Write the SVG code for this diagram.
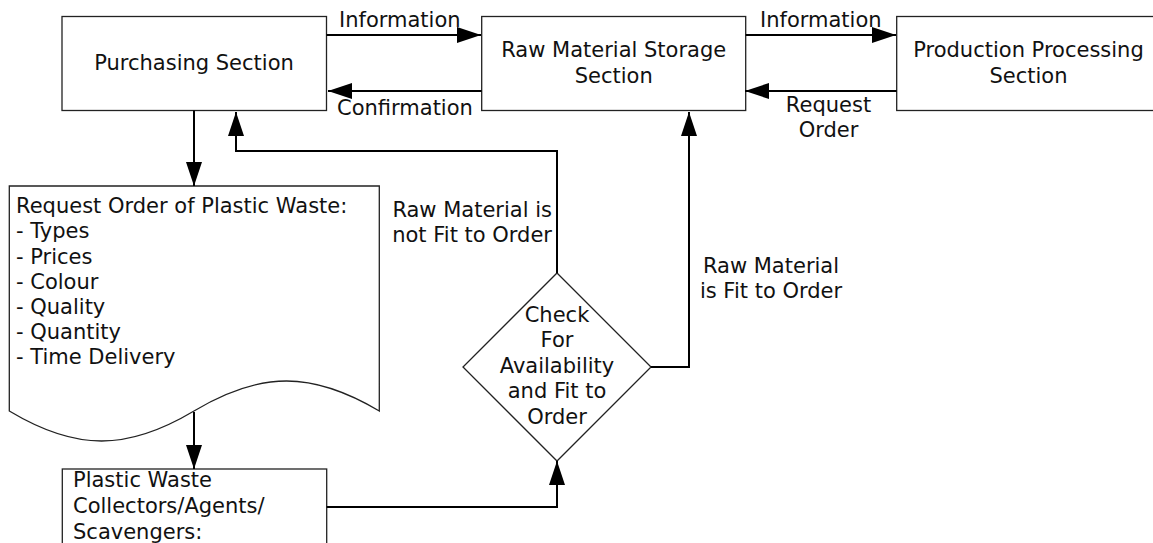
<svg xmlns="http://www.w3.org/2000/svg" width="1153" height="543" viewBox="0 0 1153 543">
<style>
.box{fill:#fff;stroke:#222;stroke-width:1.3}
.con{fill:none;stroke:#000;stroke-width:2}
text{font-family:"DejaVu Sans",Verdana,sans-serif;font-size:21px;fill:#111}
.m{text-anchor:middle}
.e{text-anchor:end}
</style>
<defs>
<marker id="ah" markerUnits="userSpaceOnUse" markerWidth="24" markerHeight="16" refX="24" refY="8" orient="auto" viewBox="0 0 24 16">
<path d="M0,0 L24,8 L0,16 Z" fill="#000"/>
</marker>
</defs>
<rect width="1153" height="543" fill="#fff"/>
<g id="purchasing">
<rect class="box" x="62" y="16.5" width="264.5" height="94"/>
<text class="m" x="194" y="70">Purchasing Section</text>
</g>
<g id="storage">
<rect class="box" x="481.7" y="16.5" width="264" height="94"/>
<text class="m" x="613.7" y="57">Raw Material Storage</text>
<text class="m" x="613.7" y="83">Section</text>
</g>
<g id="production">
<rect class="box" x="896.7" y="16.5" width="264" height="94"/>
<text class="m" x="1028.5" y="57">Production Processing</text>
<text class="m" x="1028.5" y="83">Section</text>
</g>
<g id="request-doc">
<path class="box" d="M9.3,186 H379.3 V411 C312,371 261,371 194,411 C127,451 76,451 9.3,411 Z"/>
<text x="16" y="213">Request Order of Plastic Waste:</text>
<text x="16" y="238.3">- Types</text>
<text x="16" y="263.5">- Prices</text>
<text x="16" y="288.8">- Colour</text>
<text x="16" y="314">- Quality</text>
<text x="16" y="339">- Quantity</text>
<text x="16" y="364.3">- Time Delivery</text>
</g>
<g id="collectors">
<rect class="box" x="62.3" y="469" width="264.4" height="90"/>
<text x="73" y="487">Plastic Waste</text>
<text x="73" y="513">Collectors/Agents/</text>
<text x="73" y="538.5">Scavengers:</text>
</g>
<g id="check">
<path class="box" d="M557,273 L651,367 L557,461 L463,367 Z"/>
<text class="m" x="557" y="321.7">Check</text>
<text class="m" x="557" y="347">For</text>
<text class="m" x="557" y="372.7">Availability</text>
<text class="m" x="557" y="398">and Fit to</text>
<text class="m" x="557" y="424">Order</text>
</g>
<g id="connectors">
<path class="con" d="M326.5,35 H481" marker-end="url(#ah)"/>
<path class="con" d="M481.7,91 H328" marker-end="url(#ah)"/>
<path class="con" d="M745.7,35 H896" marker-end="url(#ah)"/>
<path class="con" d="M896.7,91 H745" marker-end="url(#ah)"/>
<path class="con" d="M194,110.5 V186" marker-end="url(#ah)"/>
<path class="con" d="M194,412 V469" marker-end="url(#ah)"/>
<path class="con" d="M326.7,507 H557 V461" marker-end="url(#ah)"/>
<path class="con" d="M557,273 V151 H236 V112" marker-end="url(#ah)"/>
<path class="con" d="M651,367 H689 V112" marker-end="url(#ah)"/>
</g>
<g id="labels">
<text x="339" y="27">Information</text>
<text x="337" y="115">Confirmation</text>
<text x="760" y="27">Information</text>
<text class="m" x="828.5" y="112">Request</text>
<text class="m" x="828.5" y="137">Order</text>
<text class="e" x="552" y="216.7">Raw Material is</text>
<text class="e" x="552" y="241.7">not Fit to Order</text>
<text class="m" x="771" y="273">Raw Material</text>
<text class="m" x="771" y="298">is Fit to Order</text>
</g>
</svg>
